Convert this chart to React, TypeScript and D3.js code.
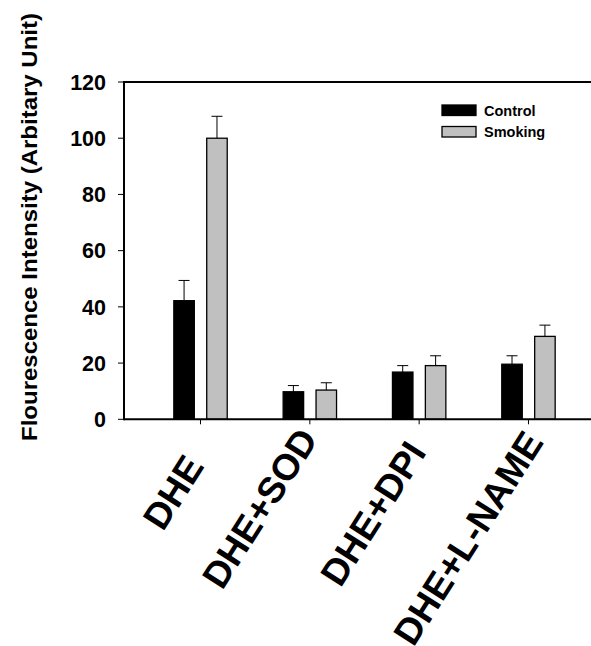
import React from "react";
import * as d3 from "d3";

const categories = ["DHE", "DHE+SOD", "DHE+DPI", "DHE+L-NAME"];
const seriesNames = ["Control", "Smoking"];
const controlValues = [42.2, 9.8, 16.8, 19.6];
const controlErrors = [7.2, 2.2, 2.3, 3.0];
const smokingValues = [100, 10.4, 19.1, 29.5];
const smokingErrors = [7.8, 2.6, 3.5, 4.0];
const yTicks = [0, 20, 40, 60, 80, 100, 120];

const W = 591;
const H = 646;
const left = 124;
const top = 82;
const bottom = 419.3;
const right = 605;

// layout-only nudges for the rotated category labels (end anchor relative to tick)
const labelNudgeX = [4.5, 9, 8, 16];
const labelNudgeY = [47, 20, 33, 23];

export default function App() {
  const y = d3.scaleLinear().domain([0, 120]).range([bottom, top]);
  const x = d3.scalePoint<string>().domain(categories).range([left, right]).padding(0.7);
  const inner = d3.scaleBand<string>().domain(seriesNames).range([-26.7, 26.7]).paddingInner(0.377);
  const bw = inner.bandwidth();
  const fills: Record<string, string> = { Control: "#000000", Smoking: "#c0c0c0" };
  const data = [
    { name: "Control", values: controlValues, errors: controlErrors },
    { name: "Smoking", values: smokingValues, errors: smokingErrors },
  ];
  const font = "'Liberation Sans', Arial, Helvetica, sans-serif";
  const angle = -57.5;

  return (
    <svg width={W} height={H} style={{ position: "absolute", left: 0, top: 0, background: "#fff" }} fontFamily={font}>
      <rect x={0} y={0} width={W} height={H} fill="#fff" />
      {data.map((s) =>
        categories.map((c, i) => {
          const bx = (x(c) as number) + (inner(s.name) as number);
          const v = s.values[i];
          const e = s.errors[i];
          const cx = bx + bw / 2;
          return (
            <g key={s.name + c}>
              <line x1={cx} x2={cx} y1={y(v)} y2={y(v + e)} stroke="#000" strokeWidth={1} />
              <line x1={cx - 5.5} x2={cx + 5.5} y1={y(v + e)} y2={y(v + e)} stroke="#000" strokeWidth={1} />
              <rect x={bx} y={y(v)} width={bw} height={bottom - y(v)} fill={fills[s.name]} stroke="#000" strokeWidth={1.3} />
            </g>
          );
        })
      )}
      <line x1={left} x2={W + 10} y1={top} y2={top} stroke="#000" strokeWidth={2} />
      <line x1={left} x2={W + 10} y1={bottom} y2={bottom} stroke="#000" strokeWidth={2} />
      <line x1={left} x2={left} y1={top - 1} y2={bottom + 1} stroke="#000" strokeWidth={2} />
      {yTicks.map((t) => (
        <g key={t}>
          <line x1={left - 6} x2={left} y1={y(t)} y2={y(t)} stroke="#000" strokeWidth={1} />
          <text x={106} y={y(t)} dy="0.36em" textAnchor="end" fontSize={21.5} fontWeight="bold">
            {t}
          </text>
        </g>
      ))}
      {categories.map((c, i) => {
        const cx = x(c) as number;
        return (
          <g key={c}>
            <line x1={cx} x2={cx} y1={bottom} y2={bottom + 5} stroke="#000" strokeWidth={1} />
            <text
              transform={`translate(${cx + labelNudgeX[i]},${bottom + labelNudgeY[i]}) rotate(${angle})`}
              textAnchor="end"
              fontSize={37}
              fontWeight="bold"
            >
              {c}
            </text>
          </g>
        );
      })}
      <text
        transform={`translate(37,${227}) rotate(-90)`}
        textAnchor="middle"
        fontSize={21.5}
        fontWeight="bold"
        textLength={428}
        lengthAdjust="spacingAndGlyphs"
      >
        Flourescence Intensity (Arbitary Unit)
      </text>
      {seriesNames.map((n, i) => (
        <g key={n}>
          <rect x={442} y={105 + i * 21.5} width={34} height={10.5} fill={fills[n]} stroke="#000" strokeWidth={1.3} />
          <text x={484} y={115.5 + i * 21.5} fontSize={14.5} fontWeight="bold">
            {n}
          </text>
        </g>
      ))}
    </svg>
  );
}
